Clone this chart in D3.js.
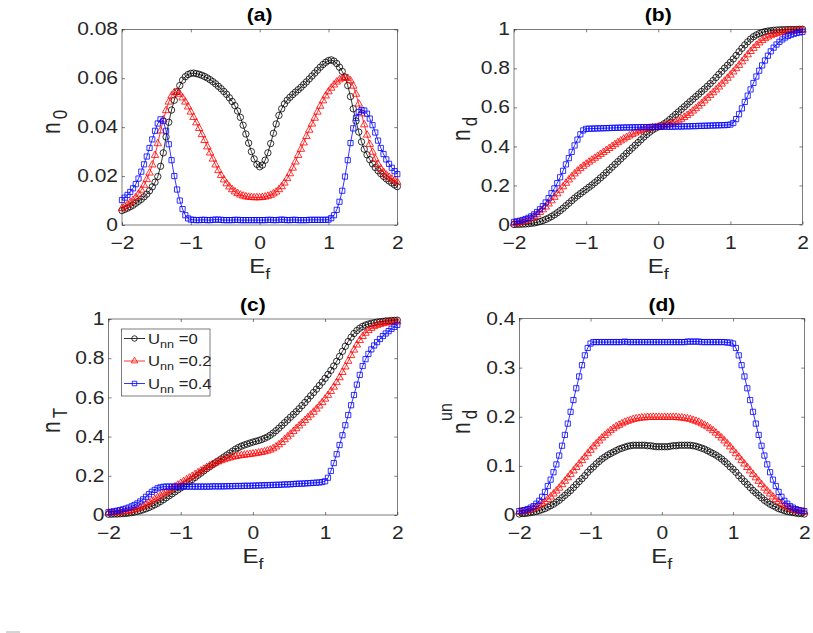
<!DOCTYPE html>
<html lang="en">
  <head>
    <meta charset="UTF-8" />
    <title>Occupations vs E_f</title>
    <script src="https://d3js.org/d3.v7.min.js"></script>
    <style>
      body { margin: 0; background: #fff; }
      svg text { font-family: 'Liberation Sans', Arial, sans-serif; fill: #262626; }
    </style>
  </head>
  <body>
    <svg width="813" height="633"></svg>
    <script>
      // E_f grid (step 0.04)
      var ef = [-2,-1.96,-1.92,-1.88,-1.84,-1.8,-1.76,-1.72,-1.68,-1.64,-1.6,-1.56,-1.52,-1.48,-1.44,
        -1.4,-1.36,-1.32,-1.28,-1.24,-1.2,-1.16,-1.12,-1.08,-1.04,-1,-0.96,-0.92,-0.88,-0.84,
        -0.8,-0.76,-0.72,-0.68,-0.64,-0.6,-0.56,-0.52,-0.48,-0.44,-0.4,-0.36,-0.32,-0.28,-0.24,
        -0.2,-0.16,-0.12,-0.08,-0.04,0,0.04,0.08,0.12,0.16,0.2,0.24,0.28,0.32,0.36,
        0.4,0.44,0.48,0.52,0.56,0.6,0.64,0.68,0.72,0.76,0.8,0.84,0.88,0.92,0.96,
        1,1.04,1.08,1.12,1.16,1.2,1.24,1.28,1.32,1.36,1.4,1.44,1.48,1.52,1.56,
        1.6,1.64,1.68,1.72,1.76,1.8,1.84,1.88,1.92,1.96,2]

      var unnLabels = ['0', '0.2', '0.4']

      // (a) n_0
      var n0_u0 = [0.0059,0.0064,0.0069,0.0075,0.0081, 0.0089,0.0097,0.0105,0.0115,0.0126,
        0.0140,0.0156,0.0175,0.0198,0.0240, 0.0295,0.0360,0.0420,0.0470,0.0510,
        0.0545,0.0570,0.0592,0.0606,0.0615, 0.0620,0.0621,0.0619,0.0616,0.0612,
        0.0607,0.0601,0.0594,0.0586,0.0577, 0.0567,0.0557,0.0546,0.0534,0.0520,
        0.0505,0.0488,0.0466,0.0440,0.0408, 0.0372,0.0335,0.0300,0.0270,0.0248,
        0.0238,0.0245,0.0265,0.0295,0.0333, 0.0375,0.0413,0.0448,0.0475,0.0495,
        0.0510,0.0522,0.0533,0.0543,0.0553, 0.0563,0.0574,0.0585,0.0597,0.0609,
        0.0621,0.0633,0.0645,0.0656,0.0665, 0.0672,0.0675,0.0670,0.0660,0.0645,
        0.0628,0.0605,0.0570,0.0525,0.0475, 0.0425,0.0380,0.0340,0.0310,0.0287,
        0.0267,0.0250,0.0235,0.0222,0.0210, 0.0199,0.0189,0.0180,0.0172,0.0164, 0.0157]
      var n0_u2 = [0.0068,0.0075,0.0083,0.0092,0.0101, 0.0112,0.0127,0.0143,0.0163,0.0186,
        0.0213,0.0246,0.0285,0.0333,0.0385, 0.0430,0.0468,0.0503,0.0528,0.0542,
        0.0543,0.0535,0.0520,0.0503,0.0483, 0.0462,0.0440,0.0418,0.0395,0.0370,
        0.0346,0.0320,0.0295,0.0270,0.0246, 0.0223,0.0203,0.0185,0.0169,0.0156,
        0.0145,0.0136,0.0129,0.0123,0.0119, 0.0116,0.0114,0.0113,0.0112,0.0112,
        0.0112,0.0113,0.0115,0.0118,0.0122, 0.0128,0.0135,0.0145,0.0157,0.0172,
        0.0190,0.0210,0.0233,0.0258,0.0285, 0.0310,0.0336,0.0362,0.0388,0.0413,
        0.0437,0.0462,0.0486,0.0508,0.0528, 0.0545,0.0560,0.0573,0.0585,0.0594,
        0.0600,0.0603,0.0600,0.0590,0.0568, 0.0535,0.0495,0.0455,0.0410,0.0368,
        0.0330,0.0298,0.0270,0.0248,0.0230, 0.0216,0.0205,0.0196,0.0188,0.0181, 0.0175]
      var n0_u4 = [0.0102,0.0112,0.0123,0.0135,0.0150, 0.0167,0.0190,0.0218,0.0248,0.0280,
        0.0315,0.0350,0.0385,0.0415,0.0432, 0.0425,0.0385,0.0330,0.0265,0.0200,
        0.0145,0.0100,0.0065,0.0040,0.0027, 0.0022,0.0021,0.0020,0.0020,0.0021,
        0.0021,0.0020,0.0020,0.0021,0.0022, 0.0022,0.0021,0.0020,0.0020,0.0020,
        0.0020,0.0021,0.0021,0.0020,0.0020, 0.0020,0.0020,0.0020,0.0020,0.0020,
        0.0020,0.0020,0.0020,0.0021,0.0021, 0.0020,0.0020,0.0021,0.0022,0.0021,
        0.0020,0.0020,0.0021,0.0021,0.0020, 0.0020,0.0020,0.0020,0.0021,0.0021,
        0.0021,0.0021,0.0021,0.0021,0.0021, 0.0022,0.0028,0.0040,0.0062,0.0095,
        0.0140,0.0198,0.0265,0.0335,0.0395, 0.0438,0.0462,0.0470,0.0468,0.0455,
        0.0435,0.0408,0.0378,0.0345,0.0315, 0.0290,0.0268,0.0250,0.0234,0.0220, 0.0208]

      // (b) n_d
      var nd_u0 = [0.000,0.001,0.001,0.002,0.003, 0.004,0.006,0.008,0.011,0.015,
        0.020,0.026,0.033,0.041,0.050, 0.060,0.071,0.083,0.096,0.109,
        0.122,0.135,0.147,0.158,0.169, 0.180,0.191,0.202,0.214,0.226,
        0.239,0.252,0.266,0.280,0.294, 0.308,0.322,0.336,0.350,0.364,
        0.378,0.392,0.406,0.420,0.434, 0.448,0.461,0.473,0.484,0.493,
        0.500,0.507,0.516,0.526,0.538, 0.551,0.564,0.577,0.590,0.603,
        0.616,0.629,0.642,0.655,0.668, 0.681,0.694,0.708,0.722,0.737,
        0.753,0.769,0.785,0.801,0.816, 0.831,0.848,0.866,0.885,0.903,
        0.920,0.936,0.950,0.962,0.971, 0.978,0.984,0.988,0.991,0.993,
        0.995,0.996,0.997,0.998,0.998, 0.999,0.999,0.999,0.999,1.000, 1.000]
      var nd_u2 = [0.004,0.007,0.010,0.014,0.019, 0.025,0.032,0.041,0.051,0.063,
        0.076,0.090,0.106,0.122,0.140, 0.158,0.176,0.194,0.212,0.229,
        0.245,0.260,0.274,0.287,0.299, 0.310,0.320,0.330,0.340,0.350,
        0.360,0.370,0.380,0.390,0.400, 0.410,0.420,0.429,0.438,0.446,
        0.454,0.462,0.469,0.476,0.482, 0.487,0.491,0.494,0.496,0.498,
        0.500,0.503,0.506,0.510,0.514, 0.519,0.525,0.532,0.540,0.549,
        0.559,0.570,0.582,0.594,0.607, 0.620,0.634,0.648,0.662,0.676,
        0.690,0.705,0.720,0.735,0.750, 0.766,0.782,0.799,0.816,0.834,
        0.852,0.870,0.887,0.903,0.918, 0.931,0.943,0.953,0.961,0.968,
        0.974,0.979,0.983,0.986,0.988, 0.990,0.992,0.993,0.994,0.995, 0.996]
      var nd_u4 = [0.013,0.016,0.019,0.023,0.028, 0.034,0.042,0.052,0.064,0.078,
        0.094,0.113,0.135,0.160,0.185, 0.212,0.242,0.275,0.308,0.340,
        0.372,0.405,0.435,0.462,0.482, 0.490,0.491,0.491,0.492,0.492,
        0.493,0.493,0.494,0.494,0.495, 0.495,0.496,0.496,0.497,0.497,
        0.497,0.498,0.498,0.498,0.499, 0.499,0.499,0.499,0.500,0.500,
        0.500,0.500,0.501,0.501,0.501, 0.501,0.502,0.502,0.502,0.503,
        0.503,0.503,0.504,0.504,0.505, 0.505,0.506,0.506,0.507,0.507,
        0.508,0.508,0.509,0.509,0.510, 0.512,0.520,0.540,0.565,0.595,
        0.628,0.660,0.692,0.725,0.758, 0.788,0.815,0.840,0.865,0.887,
        0.906,0.922,0.936,0.948,0.958, 0.966,0.972,0.977,0.981,0.984, 0.987]

      // (c) n_T
      var nT_u0 = [0.004,0.004,0.005,0.005,0.006, 0.007,0.008,0.010,0.012,0.015,
        0.018,0.022,0.027,0.032,0.038, 0.045,0.052,0.060,0.069,0.078,
        0.088,0.098,0.108,0.118,0.128, 0.138,0.148,0.159,0.170,0.181,
        0.192,0.203,0.214,0.225,0.236, 0.246,0.256,0.266,0.276,0.286,
        0.296,0.306,0.316,0.326,0.336, 0.344,0.351,0.357,0.362,0.367,
        0.372,0.376,0.380,0.385,0.391, 0.398,0.407,0.418,0.430,0.443,
        0.457,0.471,0.485,0.499,0.513, 0.527,0.542,0.558,0.574,0.591,
        0.608,0.625,0.642,0.660,0.678, 0.697,0.717,0.738,0.760,0.784,
        0.809,0.835,0.861,0.885,0.907, 0.926,0.941,0.953,0.962,0.969,
        0.974,0.978,0.981,0.984,0.986, 0.988,0.990,0.991,0.992,0.993, 0.994]
      var nT_u2 = [0.010,0.011,0.012,0.013,0.014, 0.016,0.018,0.020,0.023,0.027,
        0.032,0.038,0.045,0.053,0.062, 0.071,0.080,0.089,0.098,0.108,
        0.117,0.126,0.135,0.144,0.153, 0.162,0.171,0.180,0.189,0.198,
        0.207,0.216,0.225,0.234,0.243, 0.251,0.259,0.266,0.272,0.278,
        0.283,0.288,0.292,0.296,0.299, 0.302,0.304,0.306,0.308,0.310,
        0.312,0.314,0.317,0.320,0.323, 0.327,0.332,0.339,0.348,0.359,
        0.371,0.385,0.399,0.413,0.427, 0.441,0.455,0.469,0.483,0.497,
        0.511,0.525,0.541,0.557,0.574, 0.592,0.611,0.631,0.653,0.676,
        0.701,0.728,0.756,0.785,0.814, 0.842,0.868,0.891,0.911,0.928,
        0.942,0.953,0.962,0.968,0.973, 0.977,0.980,0.982,0.984,0.985, 0.986]
      var nT_u4 = [0.014,0.016,0.019,0.022,0.025, 0.029,0.033,0.038,0.044,0.051,
        0.059,0.069,0.080,0.093,0.106, 0.118,0.128,0.136,0.141,0.144,
        0.145,0.145,0.145,0.145,0.145, 0.145,0.145,0.145,0.145,0.145,
        0.145,0.145,0.145,0.145,0.145, 0.145,0.146,0.146,0.146,0.146,
        0.146,0.147,0.147,0.147,0.148, 0.148,0.148,0.149,0.149,0.149,
        0.150,0.150,0.151,0.151,0.152, 0.152,0.153,0.153,0.154,0.154,
        0.155,0.156,0.156,0.157,0.158, 0.159,0.160,0.160,0.161,0.162,
        0.163,0.164,0.165,0.166,0.168, 0.172,0.190,0.225,0.265,0.310,
        0.357,0.407,0.458,0.510,0.560, 0.612,0.665,0.715,0.760,0.795,
        0.822,0.845,0.865,0.882,0.898, 0.913,0.926,0.938,0.950,0.960, 0.970]

      // (d) n_d^un
      var ndun_u0 = [0.002,0.003,0.003,0.004,0.005, 0.006,0.007,0.009,0.011,0.013,
        0.016,0.019,0.022,0.026,0.030, 0.035,0.040,0.045,0.050,0.056,
        0.062,0.068,0.074,0.080,0.087, 0.093,0.098,0.104,0.109,0.114,
        0.118,0.122,0.125,0.128,0.131, 0.134,0.136,0.138,0.140,0.141,
        0.142,0.142,0.142,0.142,0.142, 0.141,0.141,0.140,0.139,0.139,
        0.139,0.139,0.139,0.140,0.141, 0.141,0.142,0.142,0.142,0.142,
        0.142,0.141,0.140,0.138,0.136, 0.134,0.131,0.128,0.125,0.122,
        0.118,0.114,0.109,0.104,0.098, 0.093,0.087,0.080,0.074,0.068,
        0.062,0.056,0.050,0.045,0.040, 0.035,0.030,0.026,0.022,0.019,
        0.016,0.013,0.011,0.009,0.007, 0.006,0.005,0.004,0.003,0.003, 0.002]
      var ndun_u2 = [0.006,0.007,0.008,0.009,0.011, 0.013,0.016,0.019,0.023,0.027,
        0.032,0.037,0.043,0.049,0.055, 0.062,0.069,0.076,0.083,0.090,
        0.097,0.104,0.111,0.118,0.125, 0.132,0.139,0.145,0.151,0.157,
        0.162,0.167,0.172,0.176,0.180, 0.183,0.186,0.189,0.191,0.193,
        0.195,0.196,0.197,0.198,0.198, 0.199,0.199,0.199,0.199,0.199,
        0.199,0.199,0.199,0.199,0.199, 0.199,0.198,0.198,0.197,0.196,
        0.195,0.193,0.191,0.189,0.186, 0.183,0.180,0.176,0.172,0.167,
        0.162,0.157,0.151,0.145,0.139, 0.132,0.125,0.118,0.111,0.104,
        0.097,0.090,0.083,0.076,0.069, 0.062,0.055,0.049,0.043,0.037,
        0.032,0.027,0.023,0.019,0.016, 0.013,0.011,0.009,0.008,0.007, 0.006]
      var ndun_u4 = [0.008,0.009,0.010,0.012,0.015, 0.018,0.023,0.029,0.037,0.047,
        0.059,0.072,0.087,0.103,0.121, 0.141,0.163,0.186,0.210,0.234,
        0.258,0.282,0.305,0.325,0.340, 0.349,0.352,0.352,0.352,0.352,
        0.352,0.352,0.352,0.352,0.352, 0.352,0.352,0.353,0.352,0.352,
        0.352,0.352,0.352,0.352,0.352, 0.352,0.352,0.352,0.352,0.352,
        0.352,0.352,0.352,0.352,0.352, 0.352,0.352,0.352,0.352,0.353,
        0.353,0.353,0.353,0.353,0.352, 0.352,0.352,0.352,0.352,0.352,
        0.352,0.352,0.352,0.351,0.351, 0.349,0.340,0.325,0.305,0.282,
        0.258,0.234,0.210,0.186,0.163, 0.141,0.121,0.103,0.087,0.072,
        0.059,0.047,0.037,0.029,0.023, 0.018,0.015,0.012,0.010,0.009, 0.008]

      var xTicks = [-2, -1, 0, 1, 2]
      var yTicksA = [0, 0.02, 0.04, 0.06, 0.08]
      var yTicksB = [0, 0.2, 0.4, 0.6, 0.8, 1]
      var yTicksD = [0, 0.1, 0.2, 0.3, 0.4]

      var colors = ['#000000', '#ff0000', '#0000ff']
      var shapes = [d3.symbolCircle, d3.symbolTriangle, d3.symbolSquare]
      var sizes = [32, 24, 27]
      var axisColor = '#262626'
      var sx = 1.2 // the original figure is a bit wider than tall, text looks stretched

      var panels = [
        { title: '(a)', left: 122, right: 397.3, top: 29.3, bottom: 225,
          yMax: 0.08, yTicks: yTicksA, sub: '0', labX: 60, labY: 134, series: [n0_u0, n0_u2, n0_u4] },
        { title: '(b)', left: 514, right: 802.5, top: 29.3, bottom: 224.5,
          yMax: 1, yTicks: yTicksB, sub: 'd', labX: 470, labY: 141, series: [nd_u0, nd_u2, nd_u4] },
        { title: '(c)', left: 108.5, right: 397.3, top: 319, bottom: 515,
          yMax: 1, yTicks: yTicksB, sub: 'T', labX: 60, labY: 433, series: [nT_u0, nT_u2, nT_u4], legend: true },
        { title: '(d)', left: 519.3, right: 804.3, top: 318.5, bottom: 515,
          yMax: 0.4, yTicks: yTicksD, sub: 'd', sup: 'un', labX: 470, labY: 434, series: [ndun_u0, ndun_u2, ndun_u4] }
      ]

      var svg = d3.select('svg')
      var fmt = d3.format('~g')

      panels.forEach(function(p) {
        var x = d3.scaleLinear().domain([-2, 2]).range([p.left, p.right])
        var y = d3.scaleLinear().domain([0, p.yMax]).range([p.bottom, p.top])
        var g = svg.append('g')
        var cx = (p.left + p.right) / 2

        // axes: ticks inside on all four sides
        var axes = [
          d3.axisBottom(x).tickValues(xTicks).tickSize(-3).tickPadding(12).tickFormat(fmt),
          d3.axisTop(x).tickValues(xTicks).tickSize(-3).tickFormat(''),
          d3.axisLeft(y).tickValues(p.yTicks).tickSize(-3).tickPadding(4).tickFormat(fmt),
          d3.axisRight(y).tickValues(p.yTicks).tickSize(-3).tickFormat('')
        ]
        var pos = ['translate(0,' + p.bottom + ')', 'translate(0,' + p.top + ')',
          'translate(' + p.left + ',0)', 'translate(' + p.right + ',0)']
        axes.forEach(function(ax, i) {
          var a = g.append('g').attr('transform', pos[i]).call(ax.tickSizeOuter(0))
          a.select('.domain').remove()
          a.selectAll('line').attr('stroke', axisColor).attr('stroke-width', 0.6)
          a.selectAll('text').attr('font-size', 17.5).attr('fill', axisColor)
            .attr('font-family', "'Liberation Sans', Arial, sans-serif")
            .attr('transform', 'scale(' + sx + ',1)')
          if (i === 2) a.selectAll('text').attr('x', -4 / sx)
        })
        g.append('rect')
          .attr('x', p.left).attr('y', p.top)
          .attr('width', p.right - p.left).attr('height', p.bottom - p.top)
          .attr('fill', 'none').attr('stroke', axisColor).attr('stroke-width', 0.6)

        // series
        p.series.forEach(function(vals, k) {
          var pts = ef.map(function(e, i) { return [e, vals[i]] })
          g.append('path')
            .attr('d', d3.line().x(function(d) { return x(d[0]) }).y(function(d) { return y(d[1]) })(pts))
            .attr('fill', 'none').attr('stroke', colors[k]).attr('stroke-width', 0.8)
          g.selectAll('.m' + k).data(pts).enter().append('path')
            .attr('class', 'm' + k)
            .attr('transform', function(d) { return 'translate(' + x(d[0]) + ',' + y(d[1]) + ')' })
            .attr('d', d3.symbol().type(shapes[k]).size(sizes[k]))
            .attr('fill', 'none').attr('stroke', colors[k]).attr('stroke-width', 0.8)
        })

        // title
        g.append('g').attr('transform', 'translate(' + cx + ',' + (p.top - 8) + ') scale(' + sx + ',1)')
          .append('text').attr('text-anchor', 'middle').attr('font-size', 17.5)
          .attr('font-weight', 'bold').style('fill', '#000').text(p.title)

        // x label E_f
        var xl = g.append('g').attr('transform', 'translate(' + cx + ',' + (p.bottom + 48) + ') scale(' + sx + ',1)')
          .append('text').attr('text-anchor', 'middle').attr('font-size', 20)
        xl.append('tspan').text('E')
        xl.append('tspan').attr('font-size', 15).attr('dy', 6).text('f')

        // y label
        var yg = g.append('g').attr('transform', 'translate(' + p.labX + ',' + p.labY + ') scale(' + sx + ',1) rotate(-90)')
        var yl = yg.append('text').attr('font-size', 21)
        yl.append('tspan').text('n')
        yl.append('tspan').attr('font-size', 17).attr('dx', 3).attr('dy', 6).text(p.sub)
        if (p.sup) {
          yg.append('text').attr('x', 13).attr('y', -15).attr('font-size', 16).text(p.sup)
        }

        // legend
        if (p.legend) {
          var lg = g.append('g')
          lg.append('rect').attr('x', 121.5).attr('y', 329).attr('width', 88.5).attr('height', 67)
            .attr('fill', '#fff').attr('stroke', axisColor).attr('stroke-width', 0.6)
          unnLabels.forEach(function(lab, k) {
            var ly = 338.5 + k * 22.5
            lg.append('line').attr('x1', 124).attr('x2', 145).attr('y1', ly).attr('y2', ly)
              .attr('stroke', colors[k]).attr('stroke-width', 0.8)
            lg.append('path').attr('transform', 'translate(134.5,' + ly + ')')
              .attr('d', d3.symbol().type(shapes[k]).size(sizes[k] * 0.75))
              .attr('fill', 'none').attr('stroke', colors[k]).attr('stroke-width', 0.8)
            var t = lg.append('g').attr('transform', 'translate(148,' + (ly + 5) + ') scale(1.15,1)')
              .append('text').attr('font-size', 14.5)
            t.append('tspan').text('U')
            t.append('tspan').attr('font-size', 11).attr('dy', 4).text('nn')
            t.append('tspan').attr('dy', -4).text(' =' + lab)
          })
        }
      })

      // small mark at lower left corner
      svg.append('line').attr('x1', 6).attr('x2', 20).attr('y1', 632).attr('y2', 632)
        .attr('stroke', '#aaa').attr('stroke-width', 1)
    </script>
  </body>
</html>
